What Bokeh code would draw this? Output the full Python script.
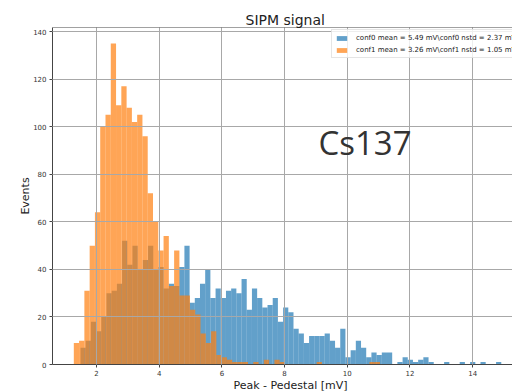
import numpy as np
from bokeh.plotting import figure
from bokeh.models import Range1d, FixedTicker, Legend, LegendItem, Label, Span, Title
from bokeh.embed import file_html
from bokeh.resources import INLINE

# conf0 histogram (blue): first bin edge [mV], bin width [mV], counts per bin
conf0_start = 1.490
conf0_width = 0.1657
conf0_counts = [7, 10, 18, 14, 20, 30, 31, 34, 52, 42,
                50, 40, 44, 50, 40, 41, 32, 34, 33, 41,
                50, 26, 28, 34, 40, 28, 32, 28, 31, 32,
                30, 36, 23, 32, 28, 24, 25, 28, 18, 24,
                22, 15, 13, 9, 12, 12, 12, 13, 10, 7,
                15, 3, 6, 10, 7, 3, 5, 4, 5, 5,
                0, 1, 3, 2, 1, 2, 3, 1, 0, 0,
                1, 0, 0, 1, 0, 1, 0, 1, 0, 0,
                1]

# conf1 histogram (orange)
conf1_start = 1.276
conf1_width = 0.1684
conf1_counts = [9, 10, 31, 50, 64, 100, 105, 135, 109, 117,
                108, 102, 105, 96, 72, 60, 48, 54, 33, 48,
                29, 29, 23, 21, 13, 9, 14, 4, 3, 2,
                1, 1, 1, 0, 1, 0, 2, 0, 2, 1,
                0, 0, 0, 0, 0, 0, 1, 0, 0, 0,
                0, 0, 0, 0, 0, 0, 1, 1]

conf0_label = "conf0 mean = 5.49 mV\\conf0 nstd = 2.37 mV"
conf1_label = "conf1 mean = 3.26 mV\\conf1 nstd = 1.05 mV"

x_ticks = [2, 4, 6, 8, 10, 12, 14]
y_ticks = [0, 20, 40, 60, 80, 100, 120, 140]

FONT = "DejaVu Sans"

p = figure(width=512, height=392, output_backend="svg", toolbar_location=None,
           x_range=Range1d(0.596, 15.27), y_range=Range1d(0, 141.75),
           min_border_left=52, min_border_right=0, min_border_top=27,
           min_border_bottom=28)

p.title.text = "SIPM  signal"
p.title.align = "left"
p.title.offset = 193
p.title.standoff = 0
p.title.text_font = FONT
p.title.text_font_size = "14px"
p.title.text_font_style = "normal"
p.title.text_color = "#222222"

def edges(start, width, n):
    left = start + width * np.arange(n)
    return left, left + width

l0, r0 = edges(conf0_start, conf0_width, len(conf0_counts))
l1, r1 = edges(conf1_start, conf1_width, len(conf1_counts))

q0 = p.quad(left=l0, right=r0, bottom=0, top=conf0_counts,
            fill_color="#1f77b4", fill_alpha=0.7, line_color=None)
q1 = p.quad(left=l1, right=r1, bottom=0, top=conf1_counts,
            fill_color="#ff7f0e", fill_alpha=0.7, line_color=None)

p.xaxis.ticker = FixedTicker(ticks=x_ticks)
p.yaxis.ticker = FixedTicker(ticks=y_ticks)
p.yaxis.axis_label = "Events"
for ax in (p.xaxis, p.yaxis):
    ax.axis_line_color = "#444444"
    ax.major_tick_line_color = "#444444"
    ax.major_tick_out = 3
    ax.major_tick_in = 0
    ax.minor_tick_line_color = None
    ax.major_label_text_font = FONT
    ax.major_label_text_font_size = "7px"
    ax.major_label_text_color = "#333333"
    ax.axis_label_text_font = FONT
    ax.axis_label_text_font_size = "11px"
    ax.axis_label_text_font_style = "normal"
    ax.axis_label_text_color = "#222222"
p.xaxis.major_label_standoff = 2
p.yaxis.major_label_standoff = 3
p.yaxis.axis_label_standoff = -2

# x-axis title, as a title panel under the x axis
p.add_layout(Title(text="Peak - Pedestal [mV]", align="left", offset=181,
                   standoff=-3, text_font=FONT, text_font_size="11px",
                   text_font_style="normal", text_color="#222222"), "below")

p.grid.grid_line_color = "#a8a8a8"
p.grid.grid_line_width = 1
p.grid.level = "guide"
p.outline_line_color = None
p.add_layout(Span(location=141.75, dimension="width", line_color="#444444", line_width=1))

p.add_layout(Label(x=9.08, y=83.8, text="Cs137", text_font="Open Sans",
                   text_font_size="33px", text_color="#333333"))

legend = Legend(items=[LegendItem(label=conf0_label, renderers=[q0]),
                       LegendItem(label=conf1_label, renderers=[q1])],
                location=(279, 306))
legend.label_text_font = FONT
legend.label_text_font_size = "7px"
legend.label_text_color = "#222222"
legend.glyph_width = 13
legend.glyph_height = 6
legend.label_standoff = 8
legend.spacing = 3
legend.padding = 3
legend.margin = 0
legend.label_height = 9
legend.border_line_color = "#cccccc"
legend.background_fill_alpha = 0.8
p.add_layout(legend)

open("out.html", "w").write(file_html(p, INLINE))
